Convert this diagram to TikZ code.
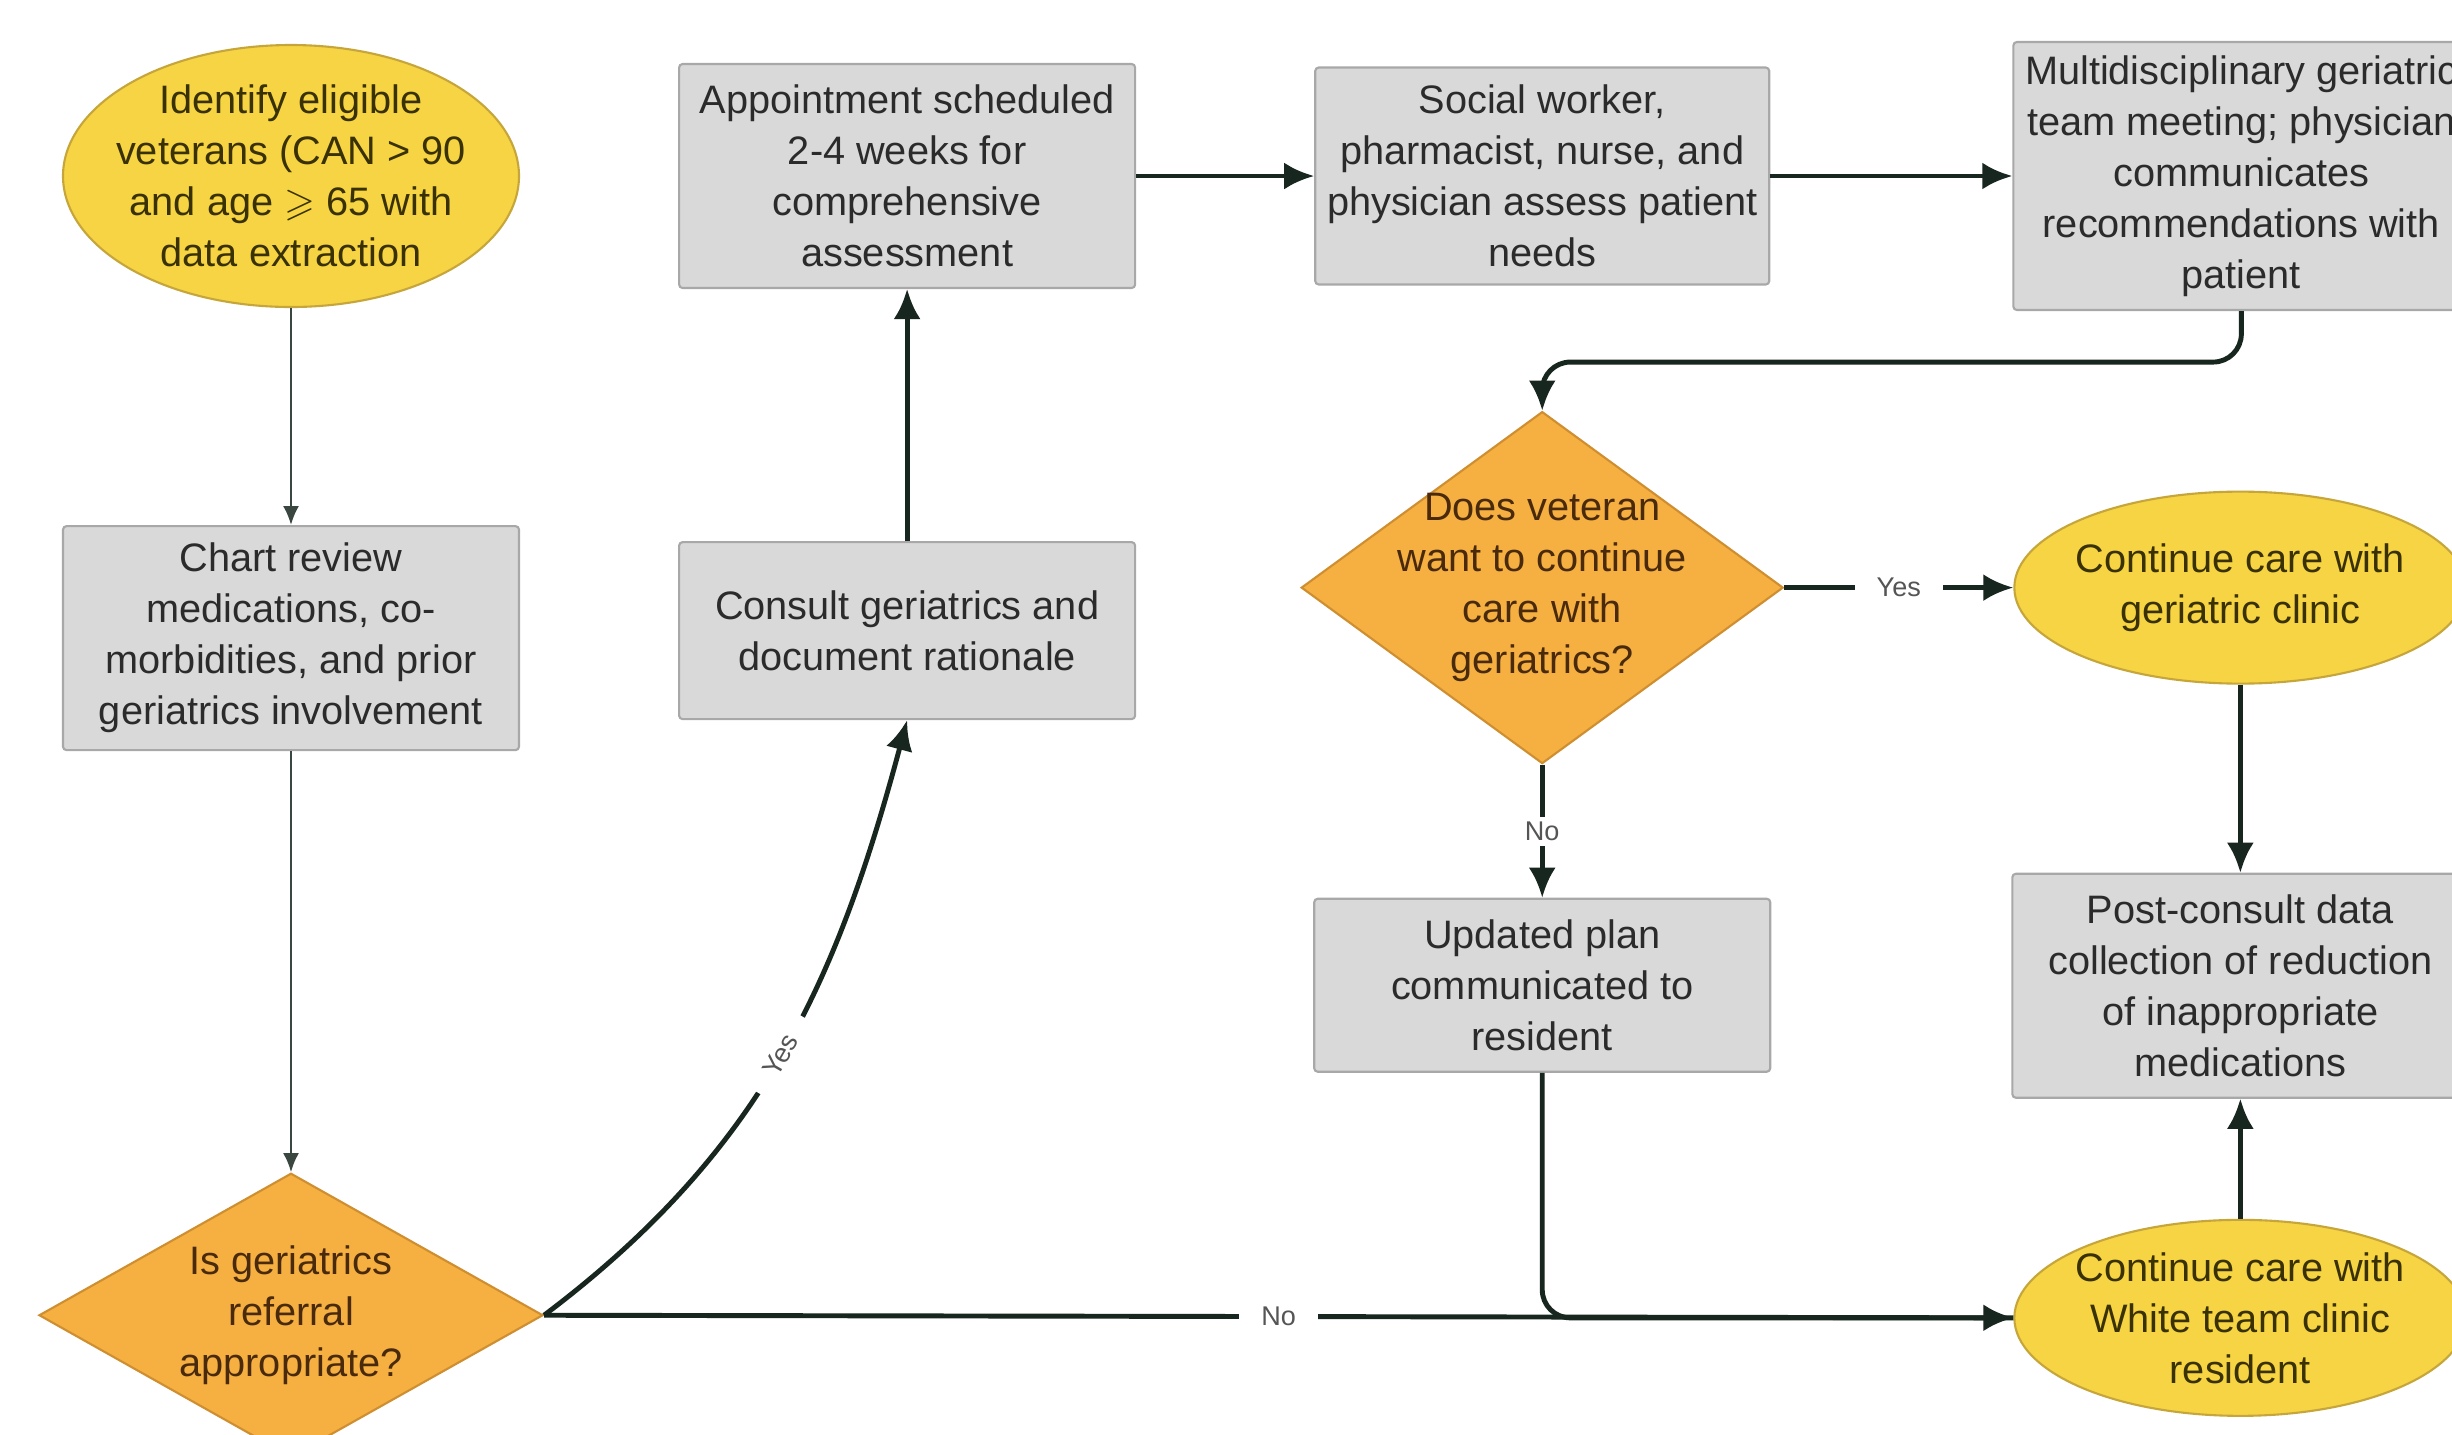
\documentclass[tikz,border=0pt]{standalone}
\usepackage{fontspec}
\setmainfont{Liberation Sans}
\usepackage{amssymb}
\usetikzlibrary{arrows.meta, positioning, shapes.geometric}

\definecolor{boxgray}{HTML}{D9D9D9}
\definecolor{boxedge}{HTML}{A8A8A8}
\definecolor{termyellow}{HTML}{F6D444}
\definecolor{termedge}{HTML}{C6A63A}
\definecolor{decorange}{HTML}{F5B041}
\definecolor{decedge}{HTML}{CF8E30}
\definecolor{arrowdark}{HTML}{17261E}
\definecolor{txtdark}{HTML}{2B2B2B}
\definecolor{dectxt}{HTML}{4A2A0C}
\definecolor{termtxt}{HTML}{3A3100}
\definecolor{lblgray}{HTML}{555555}

\begin{document}
\begin{tikzpicture}[
    >=Latex,
    font=\fontsize{11.3}{14.5}\selectfont,
    box/.style={draw=boxedge, fill=boxgray, rectangle, rounded corners=1pt, minimum width=4.56cm, align=center, inner sep=1pt, text=txtdark, line width=0.6pt},
    term/.style={draw=termedge, fill=termyellow, ellipse, inner sep=-2mm, align=center, text=termtxt, line width=0.6pt},
    decision/.style={draw=decedge, fill=decorange, diamond, inner xsep=-4mm, inner ysep=0pt, align=center, text=dectxt, line width=0.6pt},
    arrow/.style={->, >={Latex[length=3mm,width=2.7mm]}, line width=1.4pt, draw=arrowdark},
    thinarrow/.style={->, >={Latex[length=1.9mm,width=1.6mm]}, line width=0.7pt, draw=arrowdark!85},
    line/.style={line width=1.4pt, draw=arrowdark},
    lbl/.style={fill=white, font=\fontsize{7.7}{9}\selectfont, text=lblgray, inner xsep=2.2mm, inner ysep=1mm}
]

\useasboundingbox (0,0) rectangle (24.52,-14.34);
\fill[white] (0,0) rectangle (24.52,-14.34);

% Left column
\node[term, minimum width=4.56cm, minimum height=2.62cm] (identify) at (2.91,-1.76) {Identify eligible\\veterans (CAN > 90\\and age $\geqslant$ 65 with\\data extraction};
\node[box, minimum height=2.24cm, below=2.17 of identify] (chart) {Chart review\\medications, co-\\morbidities, and prior\\geriatrics involvement};
\node[decision, aspect=1.77, minimum width=5.04cm, minimum height=2.84cm, below=4.21 of chart] (refer) {Is geriatrics\\referral\\appropriate?};

% Second column
\node[box, minimum height=2.24cm, right=1.58 of identify] (appt) {Appointment scheduled\\2-4 weeks for\\comprehensive\\assessment};
\node[box, minimum height=1.77cm, below=2.52 of appt] (consult) {Consult geriatrics and\\document rationale};

% Third column
\node[box, minimum width=4.54cm, minimum height=2.17cm, right=1.78 of appt] (social) {Social worker,\\pharmacist, nurse, and\\physician assess patient\\needs};
\node[decision, aspect=1.37, minimum width=4.82cm, minimum height=3.52cm, below=1.25 of social] (cont) {Does veteran\\want to continue\\care with\\geriatrics?};
\node[box, minimum height=1.73cm, below=1.33 of cont] (updated) {Updated plan\\communicated to\\resident};

% Right column
\node[box, minimum height=2.68cm, right=2.42 of social] (multi) {Multidisciplinary geriatric\\team meeting; physician\\communicates\\recommendations with\\patient};
\node[term, minimum width=4.52cm, minimum height=1.92cm, right=2.29 of cont] (geri) {Continue care with\\geriatric clinic};
\node[box, minimum height=2.24cm, below=1.88 of geri] (post) {Post-consult data\\collection of reduction\\of inappropriate\\medications};
\node[term, minimum width=4.52cm, minimum height=1.96cm, below=1.20 of post] (white) {Continue care with\\White team clinic\\resident};

% Connectors
\draw[thinarrow] (identify) -- (chart);
\draw[thinarrow] (chart) -- (refer);
\draw[arrow] (refer.east) to[out=37, in=-105] node[lbl, sloped, pos=0.5] {Yes} (consult.south);
\draw[arrow] (consult) -- (appt);
\draw[arrow] (appt) -- (social);
\draw[arrow] (social) -- (multi);
\draw[arrow, rounded corners=8pt] (multi.south) -- ++(0,-0.51) -| (cont.north);
\draw[arrow] (cont.east) -- node[lbl] {Yes} (geri.west);
\draw[arrow] (cont.south) -- node[lbl, inner ysep=0.5mm] {No} (updated.north);
\draw[arrow] (geri) -- (post);
\draw[arrow] (white) -- (post);
\draw[line, rounded corners=8pt] (updated.south) |- (white.west);
\draw[arrow] (refer.east) -- node[lbl] {No} (white.west);

\end{tikzpicture}
\end{document}
